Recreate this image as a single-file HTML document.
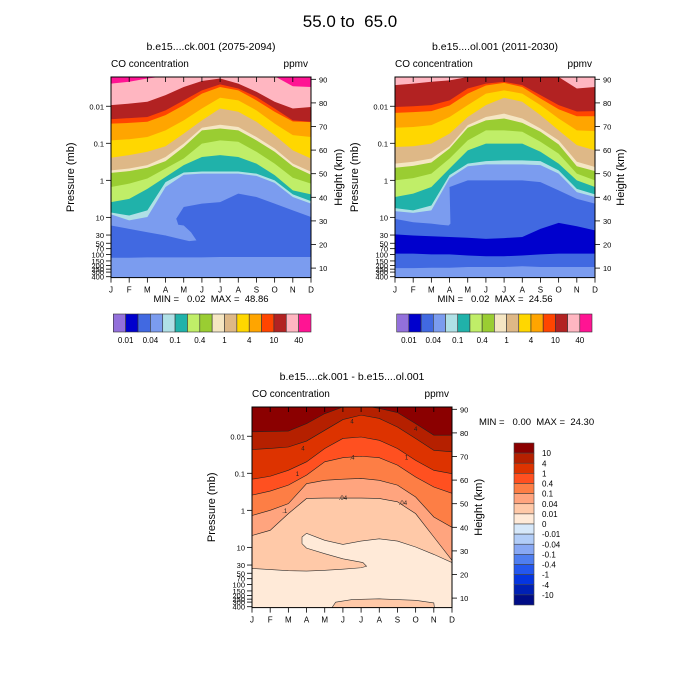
<!DOCTYPE html>
<html><head><meta charset="utf-8"><style>
html,body{margin:0;padding:0;background:#fff;}
svg{display:block;font-family:"Liberation Sans",sans-serif;}
text{white-space:pre;}
</style></head><body>
<svg id="fig" width="700" height="700" viewBox="0 0 700 700" xmlns="http://www.w3.org/2000/svg" xml:space="preserve">
<rect width="700" height="700" fill="#fff"/>
<text x="350" y="27" font-size="17" text-anchor="middle" xml:space="preserve">55.0 to  65.0</text>
</svg>
<script>
const months = ["J","F","M","A","M","J","J","A","S","O","N","D"];
const pressureTicks = [0.01,0.1,1,10,30,50,70,100,150,200,250,300,400];
const pressureLabels = ["0.01","0.1","1","10","30","50","70","100","150","200","250","300","400"];
const heightTicks = [10,20,30,40,50,60,70,80,90];
const absLevelLabels = ["0.01","0.04","0.1","0.4","1","4","10","40"];
const diffLevelLabels = ["10","4","1","0.4","0.1","0.04","0.01","0","-0.01","-0.04","-0.1","-0.4","-1","-4","-10"];

const p1_b40 = [-2.61,-2.66,-2.75,-2.81,-2.84,-2.84,-2.84,-2.84,-2.84,-2.81,-2.54,-2.52];
const p1_b20 = [-2.03,-2.07,-2.12,-2.30,-2.52,-2.68,-2.75,-2.61,-2.39,-2.12,-1.94,-1.98];
const p1_b10 = [-1.65,-1.68,-1.71,-1.89,-2.16,-2.43,-2.59,-2.48,-2.25,-1.94,-1.62,-1.58];
const p1_b7 = [-1.53,-1.55,-1.58,-1.76,-2.03,-2.34,-2.52,-2.43,-2.16,-1.85,-1.59,-1.57];
const p1_b4 = [-1.08,-1.11,-1.17,-1.35,-1.62,-1.94,-2.23,-2.16,-1.89,-1.53,-1.22,-1.17];
const p1_b2 = [-0.61,-0.68,-0.77,-0.92,-1.26,-1.62,-1.94,-1.85,-1.58,-1.22,-0.81,-0.59];
const p1_b1 = [-0.27,-0.32,-0.41,-0.63,-0.99,-1.42,-1.50,-1.44,-1.17,-0.86,-0.45,-0.23];
const p1_b07 = [-0.20,-0.25,-0.34,-0.52,-0.90,-1.35,-1.40,-1.35,-1.08,-0.77,-0.38,-0.15];
const p1_b04 = [0.18,0.09,-0.05,-0.32,-0.59,-0.99,-1.08,-1.04,-0.77,-0.45,-0.07,0.09];
const p1_b02 = [0.59,0.50,0.23,-0.09,-0.41,-0.63,-0.68,-0.63,-0.45,-0.14,0.27,0.38];
const p1_b01 = [0.87,0.95,0.81,0.05,-0.21,-0.24,-0.24,-0.24,-0.18,0.00,0.38,0.56];
const p1_b007 = [0.92,1.08,0.99,0.18,-0.15,-0.18,-0.18,-0.18,-0.12,0.07,0.45,0.63];
const p1_b004 = [1.22,1.31,1.40,1.49,0.72,0.63,0.59,0.36,0.45,0.63,0.81,0.99];
const p1_low004 = [2.09,2.09,2.08,2.08,2.08,2.08,2.07,2.07,2.07,2.07,2.07,2.07];
const p1_finger = [[3.0,1.49],[3.4,1.0],[3.6,1.05],[3.7,1.20],[4.0,1.22],[4.4,1.40],[4.7,1.62],[4.3,1.64],[3.6,1.56]];

const p2_b20 = [-2.57,-2.61,-2.66,-2.70,-2.79,-2.81,-2.81,-2.81,-2.81,-2.79,-2.48,-2.52];
const p2_b10 = [-1.98,-2.00,-2.03,-2.16,-2.48,-2.61,-2.66,-2.57,-2.30,-2.03,-1.86,-1.87];
const p2_b7 = [-1.82,-1.84,-1.87,-2.02,-2.34,-2.56,-2.63,-2.52,-2.21,-1.92,-1.73,-1.73];
const p2_b4 = [-1.42,-1.44,-1.49,-1.71,-2.03,-2.34,-2.43,-2.34,-2.03,-1.67,-1.35,-1.33];
const p2_b2 = [-0.90,-0.92,-0.99,-1.26,-1.71,-2.03,-2.23,-2.12,-1.76,-1.35,-0.95,-0.81];
const p2_b1 = [-0.45,-0.50,-0.59,-0.92,-1.49,-1.71,-1.80,-1.67,-1.40,-1.08,-0.50,-0.36];
const p2_b07 = [-0.34,-0.39,-0.48,-0.86,-1.42,-1.62,-1.67,-1.55,-1.31,-0.97,-0.38,-0.25];
const p2_b04 = [0.00,-0.06,-0.18,-0.59,-1.08,-1.35,-1.35,-1.31,-1.04,-0.72,-0.18,0.00];
const p2_b02 = [0.45,0.36,0.18,-0.32,-0.81,-0.99,-0.99,-0.99,-0.77,-0.45,0.00,0.18];
const p2_b01 = [0.75,0.81,0.68,-0.14,-0.45,-0.52,-0.54,-0.54,-0.52,-0.27,0.23,0.38];
const p2_b007 = [0.83,0.88,0.81,-0.06,-0.38,-0.43,-0.43,-0.43,-0.41,-0.18,0.32,0.45];
const p2_b004 = [1.04,1.13,1.17,0.18,0.00,0.00,0.00,0.00,0.05,0.27,0.50,0.63];
const p2_b002 = [1.46,1.49,1.51,1.53,1.55,1.58,1.56,1.53,1.31,1.15,1.24,1.35];
const p2_low002 = [1.98,1.98,2.00,2.00,2.03,2.05,2.05,2.03,2.00,1.98,1.98,1.98];
const p2_low004 = [2.37,2.37,2.36,2.36,2.34,2.34,2.34,2.32,2.34,2.34,2.34,2.34];
const p2_finger = [[2.0,0.81],[3.0,0.18],[3.05,1.17],[2.95,1.22],[2.5,1.20],[2.0,1.17]];

const d_b10 = [-2.12,-2.13,-2.14,-2.34,-2.61,-2.79,-2.84,-2.75,-2.64,-2.34,-2.03,-2.03];
const d_b4 = [-1.64,-1.67,-1.71,-1.87,-2.16,-2.45,-2.57,-2.48,-2.25,-1.94,-1.62,-1.58];
const d_b1 = [-0.84,-0.92,-1.08,-1.31,-1.67,-1.94,-1.98,-1.89,-1.67,-1.35,-1.08,-0.99];
const d_b04 = [-0.41,-0.52,-0.68,-0.95,-1.31,-1.42,-1.46,-1.42,-1.22,-0.90,-0.63,-0.46];
const d_b01 = [0.14,0.00,-0.18,-0.72,-0.81,-0.84,-0.86,-0.81,-0.68,-0.36,0.18,0.46];
const d_b004 = [0.68,0.54,0.09,-0.32,-0.33,-0.33,-0.33,-0.32,-0.23,0.09,0.72,1.35];
const d_tongue = [[2.75,0.72],[3.0,0.62],[4,0.81],[5,0.92],[6,0.83],[7,0.77],[8,0.83],[9,0.99],[10,1.19],[11,1.41],[11,2.7],[0,2.7],[0,1.57],[1,1.60],[2,1.63],[3,1.64],[4,1.62],[5,1.59],[6,1.55],[6.3,1.51],[6.1,1.41],[5,1.31],[4,1.17],[3,1.02],[2.75,0.90]];
const d_lobe = [[4.3,2.7],[4.6,2.48],[5.5,2.41],[7,2.39],[9,2.43],[10,2.50],[10.05,2.7]];
const p1Stats = "MIN =   0.02  MAX =  48.86";
const p2Stats = "MIN =   0.02  MAX =  24.56";
const p3Stats = "MIN =   0.00  MAX =  24.30";

const absColors = ["#9370DB","#0000CD","#4169E1","#7B9CEF","#B0E0E6","#20B2AA","#C0EE68","#9ACD32","#F5E6C3","#DEB887","#FFD700","#FFA500","#FF4500","#B22222","#FFB6C1","#FF1493"];
const diffColors = ["#8B0000","#B52000","#DD3300","#FF5020","#FD7E45","#FFA47E","#FFC9A8","#FFEAD8","#D6E8FA","#B2CDF8","#88A8F4","#4F7EF0","#2457EE","#0535E0","#0020B4","#000C86"];

const NS = "http://www.w3.org/2000/svg";
const svg = document.getElementById("fig");
function mk(tag, attrs, parent){ const e=document.createElementNS(NS,tag); for(const k in attrs) e.setAttribute(k,attrs[k]); (parent||svg).appendChild(e); return e; }

const W = 200, H = 200.6;
function xs(P,m){ return P.left + m*W/11; }
function ys(P,lp){ return P.top + 103.33 + lp*37.04; }
function yh(P,h){ return P.top + 2.3 + (90-h)*2.36; }

function belowPath(P, arr){
  let d = "M"+xs(P,0)+","+(P.top+H+5);
  arr.forEach((v,i)=>{ d += " L"+xs(P,i).toFixed(2)+","+ys(P,v).toFixed(2); });
  d += " L"+xs(P,11)+","+(P.top+H+5)+" Z";
  return d;
}
function linePath(P, arr){
  return arr.map((v,i)=>(i?"L":"M")+xs(P,i).toFixed(2)+","+ys(P,v).toFixed(2)).join(" ");
}
function polyPath(P, pts){
  return pts.map((p,i)=>(i?"L":"M")+xs(P,p[0]).toFixed(2)+","+ys(P,p[1]).toFixed(2)).join(" ")+" Z";
}

function panel(P){
  const g = mk("g",{});
  
  
  const clipId = P.name+"-clip";
  const cp = mk("clipPath",{id:clipId},g);
  mk("rect",{x:P.left,y:P.top,width:W,height:H},cp);
  const fg = mk("g",{"clip-path":"url(#"+clipId+")"},g);
  const bg = mk("rect",{x:P.left,y:P.top,width:W,height:H,fill:P.topColor},fg);
  
  
  P.bands.forEach(b=>{
    const p = mk("path",{d:belowPath(P,b.arr),fill:b.color},fg);
    
    
  });
  (P.polys||[]).forEach(b=>{
    const p = mk("path",{d:polyPath(P,b.pts),fill:b.color},fg);
    
    
    if(b.stroke){ p.setAttribute("stroke","#333"); p.setAttribute("stroke-width","0.6"); }
  });
  (P.lines||[]).forEach(arr=>{
    const p = mk("path",{d:linePath(P,arr),fill:"none",stroke:"#222","stroke-width":"0.6"},fg);
    
    
  });
  (P.labels||[]).forEach(l=>{
    const t = mk("text",{x:xs(P,l[0]),y:ys(P,l[1])+2,"font-size":"6","text-anchor":"middle",fill:"#222"},fg);
    t.textContent = l[2];
    
    
  });
  const fr = mk("rect",{x:P.left,y:P.top,width:W,height:H,fill:"none",stroke:"#000","stroke-width":"1"},g);
  
  
  months.forEach((m,i)=>{
    const x = xs(P,i);
    mk("line",{x1:x,y1:P.top+H,x2:x,y2:P.top+H+5,stroke:"#000","stroke-width":"0.8"},g);
    mk("line",{x1:x,y1:P.top,x2:x,y2:P.top+5,stroke:"#000","stroke-width":"0.8"},g);
    const t = mk("text",{x:x,y:P.top+H+15,"font-size":"8","text-anchor":"middle"},g);
    t.textContent = m;
    
    
  });
  pressureTicks.forEach((p,i)=>{
    const y = ys(P,Math.log10(p));
    mk("line",{x1:P.left-5,y1:y,x2:P.left,y2:y,stroke:"#000","stroke-width":"0.8"},g);
    const t = mk("text",{x:P.left-7,y:y+3,"font-size":"7.5","text-anchor":"end"},g);
    t.textContent = pressureLabels[i];
    
    
  });
  heightTicks.forEach(h=>{
    const y = yh(P,h);
    mk("line",{x1:P.left+W,y1:y,x2:P.left+W+5,y2:y,stroke:"#000","stroke-width":"0.8"},g);
    const t = mk("text",{x:P.left+W+8,y:y+3,"font-size":"7.5"},g);
    t.textContent = String(h);
    
    
  });
  const cy = P.top+H/2;
  const lx = P.left-37;
  const yl = mk("text",{x:lx,y:cy,"font-size":"11","text-anchor":"middle",transform:"rotate(-90 "+lx+" "+cy+")"},g);
  yl.textContent = "Pressure (mb)";
  
  
  const rx = P.left+W+P.rOff;
  const yr = mk("text",{x:rx,y:cy,"font-size":"11","text-anchor":"middle",transform:"rotate(-90 "+rx+" "+cy+")"},g);
  yr.textContent = "Height (km)";
  
  
  const tt = mk("text",{x:P.left+W/2,y:P.top-27,"font-size":"10.5","text-anchor":"middle"},g);
  tt.textContent = P.title;
  
  
  const lt = mk("text",{x:P.left,y:P.top-10,"font-size":"10"},g);
  lt.textContent = "CO concentration";
  
  
  const ut = mk("text",{x:P.left+W-3,y:P.top-10,"font-size":"10","text-anchor":"end"},g);
  ut.textContent = "ppmv";
  
  
  return g;
}

const P1 = {name:"panel-future", left:111, top:77, rOff:31, title:"b.e15....ck.001 (2075-2094)", topColor:absColors[15],
  bands:[
    {arr:p1_b40,color:absColors[14]},{arr:p1_b20,color:absColors[13]},{arr:p1_b10,color:absColors[12]},
    {arr:p1_b7,color:absColors[11]},{arr:p1_b4,color:absColors[10]},{arr:p1_b2,color:absColors[9]},
    {arr:p1_b1,color:absColors[8]},{arr:p1_b07,color:absColors[7]},{arr:p1_b04,color:absColors[6]},
    {arr:p1_b02,color:absColors[5]},{arr:p1_b01,color:absColors[4]},{arr:p1_b007,color:absColors[3]},
    {arr:p1_b004,color:absColors[2]},{arr:p1_low004,color:absColors[3]}],
  polys:[{pts:p1_finger,color:absColors[3]}]};
panel(P1);

const P2 = {name:"panel-control", left:395, top:77, rOff:29, title:"b.e15....ol.001 (2011-2030)", topColor:absColors[14],
  bands:[
    {arr:p2_b20,color:absColors[13]},{arr:p2_b10,color:absColors[12]},{arr:p2_b7,color:absColors[11]},
    {arr:p2_b4,color:absColors[10]},{arr:p2_b2,color:absColors[9]},{arr:p2_b1,color:absColors[8]},
    {arr:p2_b07,color:absColors[7]},{arr:p2_b04,color:absColors[6]},{arr:p2_b02,color:absColors[5]},
    {arr:p2_b01,color:absColors[4]},{arr:p2_b007,color:absColors[3]},{arr:p2_b004,color:absColors[2]},
    {arr:p2_b002,color:absColors[1]},{arr:p2_low002,color:absColors[2]},{arr:p2_low004,color:absColors[3]}],
  polys:[{pts:p2_finger,color:absColors[3]}]};
panel(P2);

const P3 = {name:"panel-difference", left:252, top:407, rOff:30, title:"b.e15....ck.001 - b.e15....ol.001", topColor:diffColors[0],
  bands:[
    {arr:d_b10,color:diffColors[1]},{arr:d_b4,color:diffColors[2]},{arr:d_b1,color:diffColors[3]},
    {arr:d_b04,color:diffColors[4]},{arr:d_b01,color:diffColors[5]},{arr:d_b004,color:diffColors[6]}],
  polys:[{pts:d_tongue,color:diffColors[7],stroke:true},{pts:d_lobe,color:diffColors[6],stroke:true}],
  lines:[d_b10,d_b4,d_b1,d_b04,d_b01,d_b004],
  labels:[[5.5,d_b4[5]+0.05,"4"],[2.5,d_b1[2]+0.1,"1"],[8.5,d_b1[8]+0.25,"1"],[5.5,d_b04[5],".4"],[1.8,d_b01[2]+0.2,".1"],[5.0,d_b004[5],".04"],[8.3,d_b004[8]+0.03,".04"],[9.0,d_b4[9]-0.25,"4"],[2.8,d_b4[3]+0.2,"4"]]};
panel(P3);

[[p1Stats,211,302],[p2Stats,495,302]].forEach(s=>{
  const t = mk("text",{x:s[1],y:s[2],"font-size":"9.5","text-anchor":"middle"});
  t.setAttributeNS("http://www.w3.org/XML/1998/namespace","xml:space","preserve");
  t.textContent = s[0];
  
  
});
const st3 = mk("text",{x:479,y:425,"font-size":"9.5"});
st3.setAttributeNS("http://www.w3.org/XML/1998/namespace","xml:space","preserve");
st3.textContent = p3Stats;



function hbar(x0,x1,y0,name){
  const g = mk("g",{});
  
  
  const bw = (x1-x0)/absColors.length;
  absColors.forEach((c,i)=>{
    const r = mk("rect",{x:x0+i*bw,y:y0,width:bw,height:18,fill:c,stroke:"#333","stroke-width":"0.6"},g);
    
    
  });
  absLevelLabels.forEach((l,i)=>{
    const t = mk("text",{x:x0+(2*i+1)*bw,y:y0+29,"font-size":"8","text-anchor":"middle"},g);
    t.textContent = l;
    
    
  });
}
hbar(113.3,311,314,"colorbar-future");
hbar(396.7,592,314,"colorbar-control");

(function(){
  const g = mk("g",{});
  
  
  const y0=443, bh=(605-443)/16;
  diffColors.forEach((c,i)=>{
    const r = mk("rect",{x:514,y:y0+i*bh,width:20,height:bh,fill:c,stroke:"#444","stroke-width":"0.6"},g);
    
    
  });
  diffLevelLabels.forEach((l,i)=>{
    const t = mk("text",{x:542,y:y0+(i+1)*bh+3,"font-size":"8"},g);
    t.textContent = l;
    
    
  });
})();
</script>
</body></html>
